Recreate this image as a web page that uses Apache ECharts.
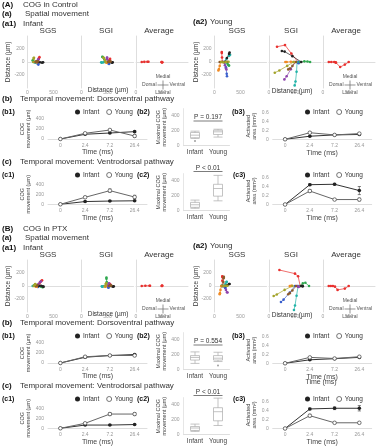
<!DOCTYPE html>
<html>
<head>
<meta charset="utf-8">
<title>COG in Control / PTX</title>
<script src="https://cdn.jsdelivr.net/npm/echarts@6/dist/echarts.min.js"></script>
<style>html,body{margin:0;padding:0;background:#fff}</style>
</head>
<body>
<div id="main" style="width:378px;height:446px"></div>
<script type="text/javascript">
// ---------- data ----------
var timeLabels = ['0', '2.4', '7.2', '26.4'];
var groupLabels = ['Infant', 'Young'];
var trajColors = ['#e8302e', '#3a5fcd', '#2fa84f', '#22b3a8', '#8e44ad', '#f08a24', '#222222', '#8b5a2b', '#a3a32a'];
var avgColors = ['#e8302e', '#e8302e'];

// (A) control - spatial trajectories, [x, y] in um at 0 / 2.4 / 7.2 / 26.4 ms
var ctlSgsInfant = [
    [[180, 0], [210, 40], [230, 75], [220, 60]],
    [[160, 0], [190, -20], [210, -40], [200, -30]],
    [[120, 0], [110, 15], [100, 25], [105, 20]],
    [[130, 0], [150, -10], [170, -5], [160, 5]],
    [[170, 0], [190, 15], [200, 30], [210, 40]],
    [[140, 0], [160, 5], [180, -5], [190, 0]],
    [[200, 0], [240, -5], [280, -10], [300, -5]],
    [[150, 0], [170, 10], [190, 5], [200, 10]],
    [[110, 0], [120, 50], [125, 65], [120, 60]]
];
var ctlSgiInfant = [
    [[520, 0], [540, 30], [550, 50], [545, 40]],
    [[500, 0], [520, -20], [530, -30], [525, -25]],
    [[480, 0], [440, 40], [410, 75], [400, 80]],
    [[450, 0], [420, -5], [390, -10], [380, -5]],
    [[500, 0], [495, 40], [490, 65], [493, 70]],
    [[470, 0], [480, -10], [490, -5], [500, 0]],
    [[540, 0], [570, -5], [590, -10], [600, -5]],
    [[510, 0], [530, 10], [550, 5], [560, 10]],
    [[460, 0], [450, 30], [430, 60], [420, 70]]
];
var ctlAvgInfant = [
    [[110, 0], [160, 2], [220, 4], [240, 4]],
    [[490, 0], [500, -5], [505, -3], [500, -2]]
];
var ctlSgsYoung = [
    [[150, 0], [145, 70], [140, 140], [140, 155]],
    [[200, 0], [220, -80], [235, -180], [240, -220]],
    [[220, 0], [250, -25], [270, -50], [280, -55]],
    [[180, 0], [230, 50], [280, 95], [300, 110]],
    [[180, 0], [200, -50], [220, -100], [230, -115]],
    [[120, 0], [100, -60], [85, -110], [75, -130]],
    [[200, 0], [240, 60], [280, 125], [290, 145]],
    [[100, 0], [150, 5], [200, 0], [240, 5]],
    [[130, 0], [170, -5], [220, 0], [270, 5]]
];
var ctlSgiYoung = [
    [[560, 0], [430, 130], [308, 260], [154, 235]],
    [[560, 0], [560, -10], [570, -20], [560, -5]],
    [[600, 0], [680, 10], [740, 8], [790, 0]],
    [[540, 0], [530, -150], [510, -300], [494, -360]],
    [[500, 0], [420, -110], [340, -220], [296, -268]],
    [[480, 0], [420, 5], [340, 0], [315, 0]],
    [[620, 0], [450, 90], [300, 160], [247, 170]],
    [[520, 0], [450, -60], [400, -100], [370, -114]],
    [[470, 0], [350, -60], [200, -130], [111, -165]]
];
var ctlAvgYoung = [
    [[111, 0], [160, 0], [216, 0], [240, -5]],
    [[494, 0], [420, -40], [330, -77], [250, -10]]
];

// (A) control - temporal movement
var ctlDvInfant = [0, 95, 120, 147];
var ctlDvInfantErr = [0, 10, 12, 15];
var ctlDvYoung = [0, 114, 180, 60];
var ctlDvYoungErr = [0, 10, 15, 30];
var ctlDvBox = [[98, 107, 142, 178, 196], [116, 151, 187, 209, 222]];
var ctlDvOutliers = [[0, 62]];
var ctlDvPText = 'P = 0.197';
var ctlDvAreaInfant = [0, 0.07, 0.1, 0.11];
var ctlDvAreaInfantErr = [0, 0.01, 0.01, 0.01];
var ctlDvAreaYoung = [0, 0.15, 0.1, 0.13];
var ctlDvAreaYoungErr = [0, 0.02, 0.01, 0.02];
var ctlVdInfant = [0, 55, 65, 70];
var ctlVdInfantErr = [0, 8, 8, 10];
var ctlVdYoung = [0, 140, 273, 145];
var ctlVdYoungErr = [0, 20, 35, 35];
var ctlVdBox = [[32, 45, 80, 112, 143], [133, 196, 299, 356, 476]];
var ctlVdOutliers = [];
var ctlVdPText = 'P < 0.01';
var ctlVdAreaInfant = [0, 0.44, 0.45, 0.31];
var ctlVdAreaInfantErr = [0, 0.02, 0.02, 0.09];
var ctlVdAreaYoung = [0, 0.3, 0.11, 0.11];
var ctlVdAreaYoungErr = [0, 0.03, 0.02, 0.03];

// (B) PTX - spatial trajectories
var ptxSgsInfant = [
    [[200, 0], [230, 40], [260, 75], [280, 88]],
    [[160, 0], [180, -10], [200, -15], [190, -10]],
    [[230, 0], [260, -10], [290, -20], [300, -15]],
    [[100, 0], [120, 5], [130, 10], [125, 5]],
    [[180, 0], [210, 30], [240, 60], [260, 70]],
    [[140, 0], [160, -5], [180, -10], [175, -5]],
    [[220, 0], [260, 5], [290, -5], [310, -10]],
    [[150, 0], [170, 10], [180, 15], [190, 10]],
    [[120, 0], [140, 20], [150, 30], [145, 25]]
];
var ptxSgiInfant = [
    [[520, 0], [540, 20], [550, 30], [545, 25]],
    [[500, 0], [510, -15], [520, -25], [515, -20]],
    [[490, 0], [485, 60], [480, 110], [480, 130]],
    [[440, 0], [420, -5], [400, -10], [390, -5]],
    [[510, 0], [520, 25], [530, 40], [525, 35]],
    [[470, 0], [460, -10], [450, -5], [455, 0]],
    [[560, 0], [590, -5], [610, -10], [620, -5]],
    [[530, 0], [550, 10], [560, 5], [570, 10]],
    [[460, 0], [470, 30], [475, 40], [470, 35]]
];
var ptxAvgInfant = [
    [[110, 0], [180, 3], [260, 5], [270, 5]],
    [[495, 0], [500, 5], [505, 2], [500, 3]]
];
var ptxSgsYoung = [
    [[150, 0], [150, 80], [150, 140], [150, 150]],
    [[180, 0], [200, -20], [210, -30], [205, -25]],
    [[150, 0], [140, 0], [135, 5], [140, 0]],
    [[190, 0], [210, 30], [230, 60], [235, 65]],
    [[200, 0], [220, -60], [240, -95], [250, -100]],
    [[130, 0], [115, -60], [105, -110], [100, -125]],
    [[210, 0], [250, 15], [280, 30], [290, 30]],
    [[160, 0], [170, 60], [175, 120], [180, 140]],
    [[170, 0], [200, 5], [230, 0], [250, 5]]
];
var ptxSgiYoung = [
    [[600, 0], [560, 150], [500, 190], [200, 246]],
    [[500, 0], [400, -100], [280, -210], [230, -246]],
    [[600, 0], [650, 40], [700, 50], [770, 0]],
    [[560, 0], [530, -150], [500, -300], [480, -370]],
    [[540, 0], [560, -10], [570, -15], [565, -10]],
    [[400, 0], [420, 0], [440, 5], [430, 0]],
    [[620, 0], [640, 0], [650, -5], [640, 0]],
    [[520, 0], [450, -70], [400, -110], [370, -128]],
    [[450, 0], [300, -60], [150, -130], [90, -154]]
];
var ptxAvgYoung = [
    [[110, 0], [150, 0], [190, 0]],
    [[494, 0], [420, -40], [280, -60], [230, -10]]
];

// (B) PTX - temporal movement
var ptxDvInfant = [0, 115, 150, 170];
var ptxDvInfantErr = [0, 10, 10, 12];
var ptxDvYoung = [0, 125, 150, 150];
var ptxDvYoungErr = [0, 10, 10, 12];
var ptxDvBox = [[85, 130, 165, 190, 240], [110, 130, 155, 190, 235]];
var ptxDvOutliers = [[1, 55]];
var ptxDvPText = 'P = 0.554';
var ptxDvAreaInfant = [0, 0.08, 0.105, 0.135];
var ptxDvAreaInfantErr = [0, 0.01, 0.01, 0.01];
var ptxDvAreaYoung = [0, 0.135, 0.11, 0.15];
var ptxDvAreaYoungErr = [0, 0.01, 0.01, 0.01];
var ptxVdInfant = [0, 65, 65, 75];
var ptxVdInfantErr = [0, 8, 8, 8];
var ptxVdYoung = [0, 100, 285, 285];
var ptxVdYoungErr = [0, 15, 30, 30];
var ptxVdBox = [[44, 57, 90, 110, 143], [124, 187, 310, 364, 493]];
var ptxVdOutliers = [];
var ptxVdPText = 'P < 0.01';
var ptxVdAreaInfant = [0, 0.435, 0.45, 0.45];
var ptxVdAreaInfantErr = [0, 0.02, 0.03, 0.06];
var ptxVdAreaYoung = [0, 0.285, 0.127, 0.127];
var ptxVdAreaYoungErr = [0, 0.03, 0.02, 0.02];

// ---------- chart ----------
var myChart = echarts.init(document.getElementById('main'));
var FONT = "'Liberation Sans', Arial, sans-serif";
var grid = [], xAxis = [], yAxis = [], series = [], legend = [], graphic = [];

function txt(x, y, text, size, extra, rot) {
    var el = {
        type: 'text', x: x, y: y, silent: true,
        style: Object.assign({text: text, fontSize: size, fontFamily: FONT, fill: '#333', align: 'left', verticalAlign: 'middle'}, extra || {})
    };
    if (rot) el.rotation = rot;
    graphic.push(el);
}
function hline(x1, x2, y, color) {
    graphic.push({type: 'line', silent: true, shape: {x1: x1, y1: y, x2: x2, y2: y}, style: {stroke: color || '#555', lineWidth: 0.7}});
}
function vline(x, y1, y2, color) {
    graphic.push({type: 'line', silent: true, shape: {x1: x, y1: y1, x2: x, y2: y2}, style: {stroke: color || '#555', lineWidth: 0.7}});
}

function spatialPanel(left, top, trajs, colors, showY) {
    var gi = grid.length;
    grid.push({left: left, top: top, width: 52, height: 52});
    xAxis.push({
        gridIndex: gi, type: 'value', min: 0, max: 1000, interval: 500,
        axisLine: {lineStyle: {color: '#dedede', width: 1}},
        axisTick: {show: false}, splitLine: {show: false},
        axisLabel: {fontSize: 5, color: '#999', margin: 2, showMaxLabel: false, fontFamily: FONT}
    });
    yAxis.push({
        gridIndex: gi, type: 'value', min: -400, max: 400, interval: 200,
        axisLine: {show: true, lineStyle: {color: '#dedede', width: 1}},
        axisTick: {show: false}, splitLine: {show: false},
        axisLabel: {
            show: showY, fontSize: 5, color: '#999', margin: 3, fontFamily: FONT,
            formatter: function (v) { return Math.abs(v) === 400 ? '' : String(v); }
        }
    });
    trajs.forEach(function (t, k) {
        series.push({
            type: 'line', xAxisIndex: gi, yAxisIndex: gi, data: t, silent: true,
            symbol: 'circle', symbolSize: 2.6, z: 3,
            lineStyle: {width: 0.7, color: colors[k]}, itemStyle: {color: colors[k]}
        });
    });
}

function errRender(params, api) {
    var x = api.value(0);
    var p1 = api.coord([x, api.value(2)]);
    var p2 = api.coord([x, api.value(1)]);
    var w = 1.6, st = {stroke: '#333', lineWidth: 0.6};
    return {
        type: 'group', children: [
            {type: 'line', shape: {x1: p1[0], y1: p1[1], x2: p2[0], y2: p2[1]}, style: st},
            {type: 'line', shape: {x1: p1[0] - w, y1: p1[1], x2: p1[0] + w, y2: p1[1]}, style: st},
            {type: 'line', shape: {x1: p2[0] - w, y1: p2[1], x2: p2[0] + w, y2: p2[1]}, style: st}
        ]
    };
}
function errData(vals, errs) {
    var out = [];
    vals.forEach(function (v, i) { if (errs[i] > 0) out.push([i, v - errs[i], v + errs[i]]); });
    return out;
}

function timePanel(left, top, height, yMax, yInterval, yName, nameGap, inf, infErr, yng, yngErr, legLeft, legY) {
    var gi = grid.length;
    grid.push({left: left, top: top, width: 99, height: height});
    xAxis.push({
        gridIndex: gi, type: 'category', data: timeLabels, boundaryGap: true,
        axisLine: {lineStyle: {color: '#dedede'}}, axisTick: {show: false},
        axisLabel: {fontSize: 5, color: '#999', margin: 4, interval: 0, fontFamily: FONT},
        name: 'Time (ms)', nameLocation: 'middle', nameGap: 8.5,
        nameTextStyle: {fontSize: 7, color: '#444', fontFamily: FONT}
    });
    yAxis.push({
        gridIndex: gi, type: 'value', min: 0, max: yMax, interval: yInterval,
        axisLine: {show: false}, axisTick: {show: false}, splitLine: {show: false},
        axisLabel: {fontSize: 5, color: '#999', margin: 4, fontFamily: FONT},
        name: yName, nameLocation: 'middle', nameRotate: 90, nameGap: nameGap,
        nameTextStyle: {fontSize: 5.5, color: '#444', lineHeight: 6, fontFamily: FONT}
    });
    series.push({
        name: 'Infant', type: 'line', xAxisIndex: gi, yAxisIndex: gi, data: inf,
        symbol: 'circle', symbolSize: 3.6, z: 4,
        lineStyle: {width: 1, color: '#333'}, itemStyle: {color: '#222'}
    });
    series.push({
        name: 'Young', type: 'line', xAxisIndex: gi, yAxisIndex: gi, data: yng,
        symbol: 'circle', symbolSize: 3.6, z: 4,
        lineStyle: {width: 1, color: '#666'}, itemStyle: {color: '#fff', borderColor: '#555', borderWidth: 0.8}
    });
    [[inf, infErr], [yng, yngErr]].forEach(function (p) {
        series.push({
            type: 'custom', xAxisIndex: gi, yAxisIndex: gi, renderItem: errRender,
            encode: {x: 0, y: [1, 2]}, data: errData(p[0], p[1]), z: 3, silent: true
        });
    });
    legend.push({
        left: legLeft, top: legY - 3.5, itemWidth: 5, itemHeight: 5, itemGap: 7, padding: 0,
        selectedMode: false, textStyle: {fontSize: 6.5, color: '#333', fontFamily: FONT, padding: [0, 0, 0, -2]},
        data: [
            {name: 'Infant', icon: 'circle', itemStyle: {color: '#222', borderWidth: 0}},
            {name: 'Young', icon: 'circle', itemStyle: {color: '#fff', borderColor: '#555', borderWidth: 0.8}}
        ]
    });
}

function boxPanel(top, box, outliers, pText, pY) {
    var gi = grid.length;
    grid.push({left: 183.5, top: top, width: 46, height: 37.1});
    xAxis.push({
        gridIndex: gi, type: 'category', data: groupLabels, boundaryGap: true,
        axisLine: {lineStyle: {color: '#dedede'}}, axisTick: {show: false},
        axisLabel: {fontSize: 6.5, color: '#444', margin: 3, interval: 0, fontFamily: FONT}
    });
    yAxis.push({
        gridIndex: gi, type: 'value', min: 0, max: 500, interval: 200,
        axisLine: {show: true, lineStyle: {color: '#e6e6e6'}}, axisTick: {show: false}, splitLine: {show: false},
        axisLabel: {fontSize: 5, color: '#999', margin: 4, showMaxLabel: false, fontFamily: FONT},
        name: 'Maximal COG\nmovement (µm)', nameLocation: 'middle', nameRotate: 90, nameGap: 11,
        nameTextStyle: {fontSize: 5.5, color: '#444', lineHeight: 6, fontFamily: FONT}
    });
    series.push({
        type: 'boxplot', xAxisIndex: gi, yAxisIndex: gi, data: box, boxWidth: [9, 9], silent: true,
        itemStyle: {color: '#fff', borderColor: '#aaa', borderWidth: 0.7}
    });
    series.push({
        type: 'scatter', xAxisIndex: gi, yAxisIndex: gi, data: outliers, silent: true,
        symbolSize: 2, itemStyle: {color: '#888'}
    });
    txt(208, pY, pText, 6.5, {align: 'center'});
    hline(193.5, 222.5, pY + 3.5, '#444');
}

function compass(cx, cy) {
    hline(cx - 5.5, cx + 5.5, cy, '#666');
    vline(cx, cy - 4.5, cy + 4.5, '#666');
    txt(cx, cy - 8, 'Medial', 5, {align: 'center', fill: '#555'});
    txt(cx, cy + 7.5, 'Lateral', 5, {align: 'center', fill: '#555'});
    txt(cx - 6.5, cy, 'Dorsal', 5, {align: 'right', fill: '#555'});
    txt(cx + 6.5, cy, 'Ventral', 5, {align: 'left', fill: '#555'});
}

function drawBlock(dy, letter, title, d) {
    var B = {fontWeight: 'bold', fill: '#111'};
    txt(2, 4.5 + dy, letter, 8, B);
    txt(23, 4.5 + dy, title, 8);
    txt(2, 14 + dy, '(a)', 8, B);
    txt(25, 14 + dy, 'Spatial movement', 8);
    txt(2, 24 + dy, '(a1)', 8, B);
    txt(23, 24 + dy, 'Infant', 8);
    txt(193, 21.5 + dy, '(a2)', 8, B);
    txt(210, 21.5 + dy, 'Young', 8);
    [['SGS', 48], ['SGI', 106], ['Average', 159], ['SGS', 237], ['SGI', 291], ['Average', 346]].forEach(function (t) {
        txt(t[1], 31 + dy, t[0], 8, {align: 'center'});
    });
    spatialPanel(27.5, 36 + dy, d.sgsInf, trajColors, true);
    spatialPanel(81.5, 36 + dy, d.sgiInf, trajColors, false);
    spatialPanel(136, 36 + dy, d.avgInf, avgColors, false);
    spatialPanel(214.5, 36 + dy, d.sgsYng, trajColors, true);
    spatialPanel(269, 36 + dy, d.sgiYng, trajColors, false);
    spatialPanel(323, 36 + dy, d.avgYng, avgColors, false);
    txt(8, 62 + dy, 'Distance (µm)', 6.5, {align: 'center'}, Math.PI / 2);
    txt(196, 62 + dy, 'Distance (µm)', 6.5, {align: 'center'}, Math.PI / 2);
    txt(108, 90 + dy, 'Distance (µm)', 6.5, {align: 'center'});
    txt(292, 91 + dy, 'Distance (µm)', 6.5, {align: 'center'});
    compass(163, 85 + dy);
    compass(350, 85 + dy);

    txt(2, 99 + dy, '(b)', 8, B);
    txt(20, 99 + dy, 'Temporal movement: Dorsoventral pathway', 8);
    txt(2, 112 + dy, '(b1)', 7, B);
    txt(137, 112 + dy, '(b2)', 7, B);
    txt(232, 112 + dy, '(b3)', 7, B);
    timePanel(48, 119 + dy, 20, 400, 200, 'COG\nmovement (µm)', 14, d.dvInf, d.dvInfErr, d.dvYng, d.dvYngErr, 75, 112 + dy);
    boxPanel(108.6 + dy, d.dvBox, d.dvOut, d.dvP, 117.5 + dy);
    timePanel(272.7, 113 + dy, 26.3, 0.6, 0.2, 'Activated\narea (mm²)', 12, d.dvArInf, d.dvArInfErr, d.dvArYng, d.dvArYngErr, 305, 112 + dy);

    txt(2, 162 + dy, '(c)', 8, B);
    txt(20, 162 + dy, 'Temporal movement: Ventrodorsal pathway', 8);
    txt(2, 175 + dy, '(c1)', 7, B);
    txt(137, 175 + dy, '(c2)', 7, B);
    txt(233, 175 + dy, '(c3)', 7, B);
    timePanel(48, 184.3 + dy, 20, 400, 200, 'COG\nmovement (µm)', 14, d.vdInf, d.vdInfErr, d.vdYng, d.vdYngErr, 75, 175 + dy);
    boxPanel(173.6 + dy, d.vdBox, d.vdOut, d.vdP, 168 + dy);
    timePanel(272.7, 177.5 + dy, 27, 0.6, 0.2, 'Activated\narea (mm²)', 12, d.vdArInf, d.vdArInfErr, d.vdArYng, d.vdArYngErr, 305, 175 + dy);
}

drawBlock(0, '(A)', 'COG in Control', {
    sgsInf: ctlSgsInfant, sgiInf: ctlSgiInfant, avgInf: ctlAvgInfant,
    sgsYng: ctlSgsYoung, sgiYng: ctlSgiYoung, avgYng: ctlAvgYoung,
    dvInf: ctlDvInfant, dvInfErr: ctlDvInfantErr, dvYng: ctlDvYoung, dvYngErr: ctlDvYoungErr,
    dvBox: ctlDvBox, dvOut: ctlDvOutliers, dvP: ctlDvPText,
    dvArInf: ctlDvAreaInfant, dvArInfErr: ctlDvAreaInfantErr, dvArYng: ctlDvAreaYoung, dvArYngErr: ctlDvAreaYoungErr,
    vdInf: ctlVdInfant, vdInfErr: ctlVdInfantErr, vdYng: ctlVdYoung, vdYngErr: ctlVdYoungErr,
    vdBox: ctlVdBox, vdOut: ctlVdOutliers, vdP: ctlVdPText,
    vdArInf: ctlVdAreaInfant, vdArInfErr: ctlVdAreaInfantErr, vdArYng: ctlVdAreaYoung, vdArYngErr: ctlVdAreaYoungErr
});
drawBlock(224, '(B)', 'COG in PTX', {
    sgsInf: ptxSgsInfant, sgiInf: ptxSgiInfant, avgInf: ptxAvgInfant,
    sgsYng: ptxSgsYoung, sgiYng: ptxSgiYoung, avgYng: ptxAvgYoung,
    dvInf: ptxDvInfant, dvInfErr: ptxDvInfantErr, dvYng: ptxDvYoung, dvYngErr: ptxDvYoungErr,
    dvBox: ptxDvBox, dvOut: ptxDvOutliers, dvP: ptxDvPText,
    dvArInf: ptxDvAreaInfant, dvArInfErr: ptxDvAreaInfantErr, dvArYng: ptxDvAreaYoung, dvArYngErr: ptxDvAreaYoungErr,
    vdInf: ptxVdInfant, vdInfErr: ptxVdInfantErr, vdYng: ptxVdYoung, vdYngErr: ptxVdYoungErr,
    vdBox: ptxVdBox, vdOut: ptxVdOutliers, vdP: ptxVdPText,
    vdArInf: ptxVdAreaInfant, vdArInfErr: ptxVdAreaInfantErr, vdArYng: ptxVdAreaYoung, vdArYngErr: ptxVdAreaYoungErr
});
// stray duplicate axis title under (b3) of block B, as in the figure
txt(321, 382, 'Time (ms)', 7, {align: 'center', fill: '#444'});

option = {
    backgroundColor: '#fff',
    animation: false,
    textStyle: {fontFamily: FONT},
    grid: grid.map(function (g) { g.outerBoundsMode = 'none'; return g; }),
    xAxis: xAxis,
    yAxis: yAxis,
    legend: legend,
    series: series,
    graphic: graphic
};
myChart.setOption(option);
</script>
</body>
</html>
